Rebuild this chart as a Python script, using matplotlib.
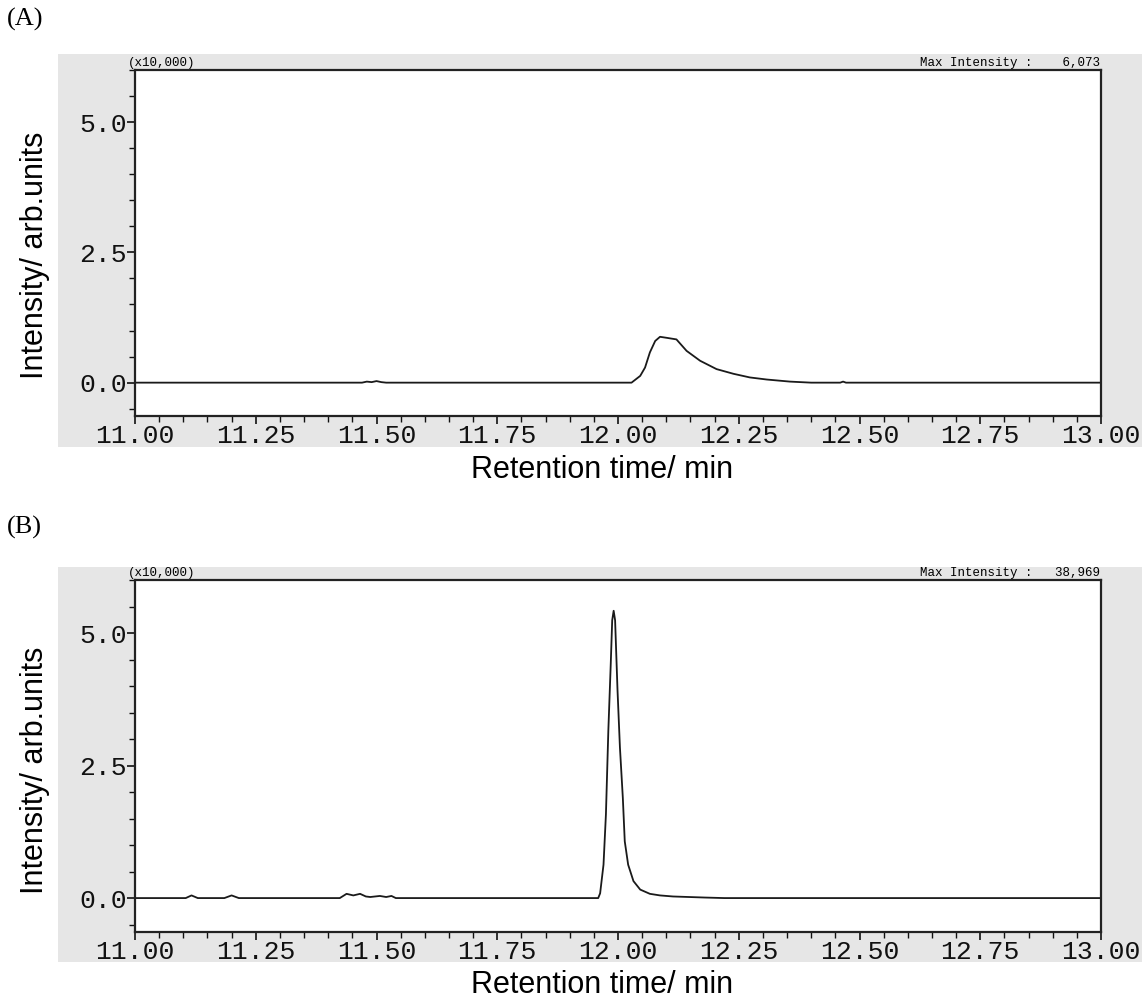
import matplotlib.pyplot as plt
from matplotlib.patches import Rectangle
from matplotlib.ticker import MultipleLocator

# chromatogram (A): retention time [min] and intensity [x10,000]
time_a = [11.00, 11.47, 11.48, 11.49, 11.50, 11.51, 11.52, 12.028, 12.046, 12.056,
          12.066, 12.077, 12.087, 12.101, 12.121, 12.142, 12.170, 12.204, 12.239,
          12.273, 12.308, 12.356, 12.40, 12.46, 12.466, 12.472, 13.00]
inten_a = [0.0, 0.0, 0.02, 0.01, 0.03, 0.01, 0.0, 0.0, 0.13, 0.29,
           0.58, 0.80, 0.88, 0.86, 0.83, 0.61, 0.42, 0.26, 0.17,
           0.10, 0.06, 0.02, 0.0, 0.0, 0.02, 0.0, 0.0]

# chromatogram (B)
time_b = [11.00, 11.105, 11.117, 11.13, 11.185, 11.20, 11.215, 11.424, 11.438,
          11.452, 11.466, 11.478, 11.487, 11.497, 11.507, 11.52, 11.531, 11.54,
          11.959, 11.963, 11.970, 11.975, 11.980, 11.985, 11.988, 11.991, 11.994,
          11.999, 12.004, 12.010, 12.014, 12.021, 12.032, 12.046, 12.066, 12.087,
          12.114, 12.18, 12.22, 13.00]
inten_b = [0.0, 0.0, 0.05, 0.0, 0.0, 0.05, 0.0, 0.0, 0.08,
           0.05, 0.08, 0.03, 0.02, 0.03, 0.04, 0.02, 0.04, 0.0,
           0.0, 0.09, 0.63, 1.58, 3.16, 4.42, 5.24, 5.42, 5.24,
           3.92, 2.84, 1.89, 1.07, 0.63, 0.32, 0.16, 0.08, 0.05,
           0.03, 0.01, 0.0, 0.0]

panels = [('(A)', '    6,073', time_a, inten_a), ('(B)', '   38,969', time_b, inten_b)]
xticks = [11.00, 11.25, 11.50, 11.75, 12.00, 12.25, 12.50, 12.75, 13.00]
yticks = [0.0, 2.5, 5.0]

W, H = 1142, 1005
fig = plt.figure(figsize=(W / 100, H / 100), dpi=100)

def fx(px):
    return px / W

def fy(py):
    return 1 - py / H

tick_font = {'family': 'Liberation Mono', 'size': 19}
small_font = {'family': 'Liberation Mono', 'size': 9}

# pixel layout of each panel: gray top/bottom, axes top/bottom, tag y, xlabel y, ylabel y
layout = [(54, 447, 70, 416, 19, 470, 255), (567, 962, 580, 932, 527, 985, 770)]

for (tag, maxint, t, y), (gt, gb, at, ab, tagy, xly, yly) in zip(panels, layout):
    fig.patches.append(Rectangle((fx(58), fy(gb)), fx(W - 58), (gb - gt) / H,
                                 transform=fig.transFigure, facecolor='#e6e6e6',
                                 edgecolor='none', zorder=-1))
    ax = fig.add_axes([fx(135), fy(ab), fx(1101 - 135), (ab - at) / H])
    ax.set_zorder(2)
    ax.set_facecolor('white')
    ax.plot(t, y, color='#1a1a1a', lw=1.3)
    ax.set_xlim(11.0, 13.0)
    ax.set_ylim(-0.64, 6.0)
    ax.set_xticks(xticks)
    ax.set_xticklabels(['%.2f' % v for v in xticks], fontdict=tick_font)
    ax.set_yticks(yticks)
    ax.set_yticklabels(['%.1f' % v for v in yticks], fontdict=tick_font)
    ax.xaxis.set_minor_locator(MultipleLocator(0.05))
    ax.yaxis.set_minor_locator(MultipleLocator(0.5))
    ax.tick_params(which='major', direction='out', length=6, width=1.2, pad=0, colors='#111')
    ax.tick_params(which='minor', direction='out', length=4, width=1.0, colors='#111')
    for s in ax.spines.values():
        s.set_linewidth(1.6)
        s.set_color('#222')

    fig.text(fx(128), fy(at) + 1 / H, '(x10,000)', fontdict=small_font, va='bottom', ha='left',
             zorder=3)
    fig.text(fx(1100), fy(at) + 1 / H, 'Max Intensity :' + maxint, fontdict=small_font,
             va='bottom', ha='right', zorder=3)
    fig.text(fx(7), fy(tagy), tag, family='Liberation Serif', size=19, va='center', ha='left')
    fig.text(fx(602), fy(xly), 'Retention time/ min', family='Liberation Sans', size=22,
             va='center', ha='center')
    fig.text(fx(35), fy(yly), 'Intensity/ arb.units', family='Liberation Sans', size=22,
             va='center', ha='center', rotation=90)

fig.savefig('out.png', dpi=100)
